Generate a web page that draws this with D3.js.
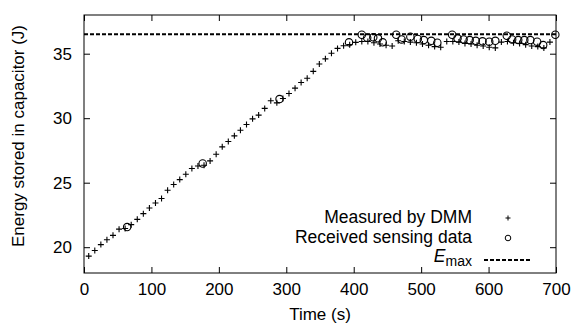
<!DOCTYPE html>
<html>
<head>
<meta charset="utf-8">
<script src="https://cdn.jsdelivr.net/npm/d3@7"></script>
<style>
html,body{margin:0;padding:0;background:#fff;}
svg{display:block;font-family:"Liberation Sans",Arial,Helvetica,sans-serif;}
</style>
</head>
<body>
<svg id="chart" width="575" height="327"></svg>
<script>
// ---- data ----
const measuredT = [7,16,25,34,43,52,61,70,79,88,97,106,115,124,133,142,151,160,169,178,187,196,205,214,223,232,241,250,259,268,277,286,295,304,313,322,331,340,349,358,367,376,385,394,403,412,421,430,439,448,457,466,475,484,493,502,511,520,529,538,547,556,565,574,583,592,601,610,619,628,637,646,655,664,673,682,691];
const measuredE = [19.31,19.75,20.2,20.58,20.92,21.4,21.45,21.75,22.16,22.6,23.04,23.43,23.77,24.41,24.86,25.24,25.66,26.1,26.3,26.35,26.69,27.21,27.78,28.19,28.63,29.07,29.51,29.95,30.24,30.76,31.35,31.19,31.53,31.92,32.33,32.77,33.1,33.63,34.2,34.6,35.03,35.41,35.62,35.7,35.88,35.95,35.95,35.85,35.75,35.65,35.6,36.0,35.95,35.9,35.85,35.75,35.65,35.55,35.5,35.95,35.95,35.9,35.8,35.75,35.65,35.6,35.5,35.45,35.9,35.95,35.85,35.8,35.7,35.6,35.55,35.45,35.9];
const receivedT = [64,176,290,393,412,420,429,436,443,463,471,484,495,504,515,524,546,554,563,572,581,591,601,610,627,635,644,653,662,672,681,699];
const receivedE = [21.56,26.49,31.48,35.88,36.47,36.24,36.27,36.19,35.88,36.47,36.11,36.32,36.14,36.06,36.0,35.85,36.47,36.19,36.11,36.06,36.0,35.96,35.93,36.0,36.39,36.11,36.06,36.06,36.06,35.93,35.67,36.47];
const Emax = 36.5;
const xTicks = [0,100,200,300,400,500,600,700];
const yTicks = [20,25,30,35];
const legendLabels = ["Measured by DMM","Received sensing data"];

// ---- layout ----
const svg = d3.select("#chart");
const L = 84, R = 556, T = 15, B = 273;
const x = d3.scaleLinear().domain([0,700]).range([L,R]);
const y = d3.scaleLinear().domain([18,38]).range([B,T]);
const fs = 17, lfs = 17.5;

// axes (inward ticks, mirrored)
const gx = svg.append("g").attr("transform",`translate(0,${B})`)
  .call(d3.axisBottom(x).tickValues(xTicks).tickSize(-6).tickPadding(10).tickFormat(d3.format("d")));
const gxt = svg.append("g").attr("transform",`translate(0,${T})`)
  .call(d3.axisTop(x).tickValues(xTicks).tickSize(-6).tickFormat(""));
const gy = svg.append("g").attr("transform",`translate(${L},0)`)
  .call(d3.axisLeft(y).tickValues(yTicks).tickSize(-6).tickPadding(12));
const gyr = svg.append("g").attr("transform",`translate(${R},0)`)
  .call(d3.axisRight(y).tickValues(yTicks).tickSize(-6).tickFormat(""));
[gx,gxt,gy,gyr].forEach(g=>{
  g.select(".domain").remove();
  g.selectAll("line").attr("stroke","#000").attr("stroke-width",1);
  g.selectAll("text").attr("font-size",fs).attr("font-family","Liberation Sans, Arial, sans-serif").attr("fill","#000");
});

// frame
svg.append("rect").attr("x",L).attr("y",T).attr("width",R-L).attr("height",B-T)
  .attr("fill","none").attr("stroke","#000").attr("stroke-width",1);

// Emax line
svg.append("line").attr("x1",x(0)).attr("x2",x(700)).attr("y1",y(Emax)).attr("y2",y(Emax))
  .attr("stroke","#000").attr("stroke-width",2).attr("stroke-dasharray","4,2");

// plus markers
const plusPath = s => `M${-s},0H${s}M0,${-s}V${s}`;
svg.append("g").selectAll("path").data(measuredT).join("path")
  .attr("transform",(d,i)=>`translate(${x(d)},${y(measuredE[i])})`)
  .attr("d",plusPath(3)).attr("stroke","#000").attr("stroke-width",1.1).attr("fill","none");

// circle markers
svg.append("g").selectAll("circle").data(receivedT).join("circle")
  .attr("cx",d=>x(d)).attr("cy",(d,i)=>y(receivedE[i])).attr("r",3.7)
  .attr("fill","none").attr("stroke","#000").attr("stroke-width",1.1);

// axis titles
svg.append("text").attr("x",(L+R)/2).attr("y",320).attr("text-anchor","middle")
  .attr("font-size",fs).text("Time (s)");
svg.append("text").attr("transform",`translate(24,${(T+B)/2 - 8}) rotate(-90)`).attr("text-anchor","middle")
  .attr("font-size",fs).text("Energy stored in capacitor (J)");

// legend
const lgX = 472, symX = 508;
svg.append("text").attr("x",lgX).attr("y",222.5).attr("text-anchor","end").attr("font-size",lfs).text(legendLabels[0]);
svg.append("path").attr("transform",`translate(${symX},218)`).attr("d",plusPath(2.5)).attr("stroke","#000").attr("stroke-width",1).attr("fill","none");
svg.append("text").attr("x",lgX).attr("y",243).attr("text-anchor","end").attr("font-size",lfs).text(legendLabels[1]);
svg.append("circle").attr("cx",symX).attr("cy",238).attr("r",2.8).attr("fill","none").attr("stroke","#000").attr("stroke-width",1);
const et = svg.append("text").attr("x",lgX).attr("y",262).attr("text-anchor","end").attr("font-size",lfs);
et.append("tspan").attr("font-style","italic").text("E");
et.append("tspan").attr("font-size",14).attr("dy",4).text("max");
svg.append("line").attr("x1",484).attr("x2",532).attr("y1",260).attr("y2",260)
  .attr("stroke","#000").attr("stroke-width",2).attr("stroke-dasharray","4,2");
</script>
</body>
</html>
